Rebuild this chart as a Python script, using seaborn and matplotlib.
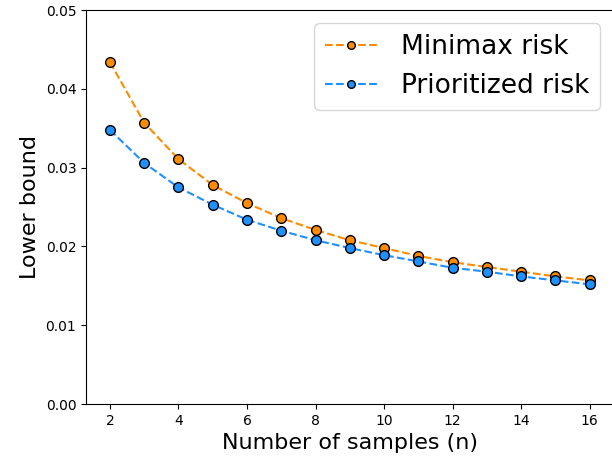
import numpy as np
import pandas as pd
import seaborn as sns
import matplotlib
matplotlib.use("Agg")
import matplotlib.pyplot as plt

n_samples = [2, 3, 4, 5, 6, 7, 8, 9, 10, 11, 12, 13, 14, 15, 16]
minimax_risk = [0.0434, 0.0357, 0.0311, 0.0278, 0.0255, 0.0236, 0.0221, 0.0208,
                0.0198, 0.0188, 0.0180, 0.0174, 0.0168, 0.0162, 0.0157]
prioritized_risk = [0.0348, 0.0306, 0.0275, 0.0253, 0.0234, 0.0220, 0.0208, 0.0198,
                    0.0189, 0.0181, 0.0173, 0.0168, 0.0162, 0.0157, 0.0152]


def main():
    df = pd.DataFrame({
        "n": n_samples * 2,
        "risk": minimax_risk + prioritized_risk,
        "kind": ["Minimax risk"] * len(n_samples) + ["Prioritized risk"] * len(n_samples),
    })

    fig = plt.figure(figsize=(6.12, 4.59), dpi=100)
    # right edge of the box falls just outside the picture, as in the original crop
    ax = fig.add_axes([0.1405, 0.1198, 0.862, 0.858])
    ax = sns.lineplot(
        data=df, x="n", y="risk", hue="kind",
        palette=["darkorange", "dodgerblue"],
        marker="o", markersize=7, markeredgecolor="black", markeredgewidth=1,
        linestyle="--", linewidth=1.5, ax=ax,
    )
    ax.set_ylim(0, 0.05)
    ax.set_xticks(range(2, 17, 2))
    ax.tick_params(labelsize=10)
    ax.set_xlabel("Number of samples (n)", fontsize=16)
    ax.set_ylabel("Lower bound", fontsize=16)
    leg = ax.legend(fontsize=19, loc="upper right", handletextpad=0.9)
    for h in leg.legend_handles:
        h.set_markersize(5.5)
    plt.savefig("out.png", dpi=100)


if __name__ == "__main__":
    main()
